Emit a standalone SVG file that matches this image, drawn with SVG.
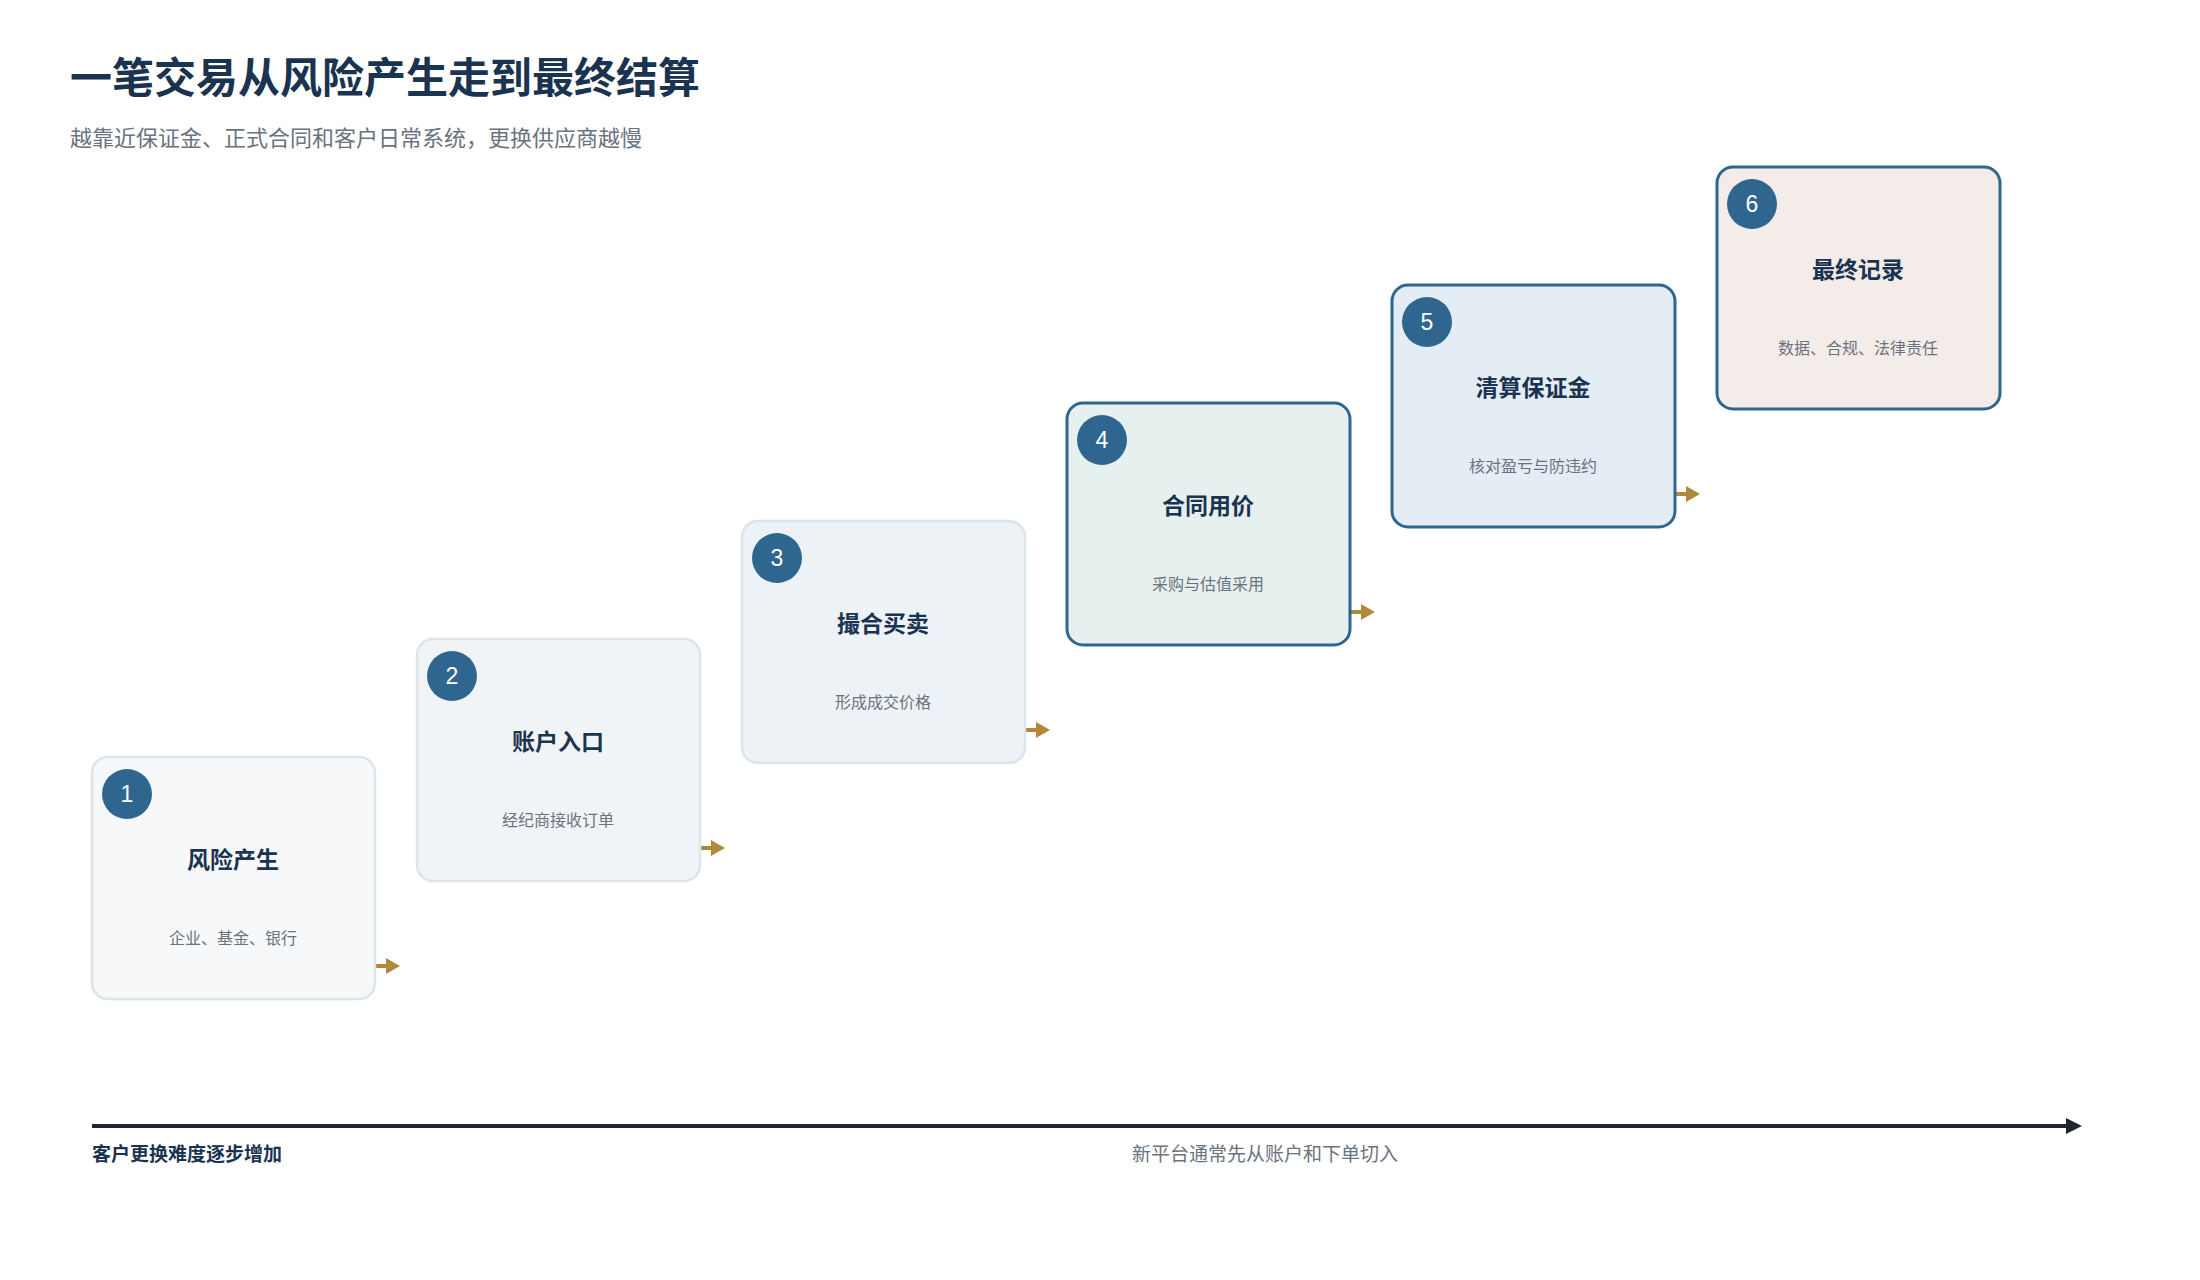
<svg xmlns="http://www.w3.org/2000/svg" width="2200" height="1280" viewBox="0 0 2200 1280">
<style>
text{font-family:"Noto Sans CJK SC","Noto Sans",sans-serif}
.t{font-size:42px;font-weight:bold;fill:#1a3350}
.s{font-size:22px;fill:#6b7280}
.nt{font-size:23px;font-weight:bold;fill:#1a3350;text-anchor:middle}
.ns{font-size:16px;fill:#6b7280;text-anchor:middle}
.bd{fill:#2e6690}
.bn{font-size:23px;fill:#fff;text-anchor:middle;font-family:"Liberation Sans",sans-serif}
.lt{stroke:#dce5ec;stroke-width:2.5}
.dk{stroke:#2e6690;stroke-width:3}
.ar{stroke:#b08a3a;stroke-width:4}
</style>
<defs>
<marker id="g" viewBox="0 0 10 10" refX="9" refY="5" markerWidth="4" markerHeight="4" orient="auto" markerUnits="userSpaceOnUse"><path d="M0,0L10,5L0,10z" fill="#b08a3a"/></marker>
<marker id="k" viewBox="0 0 10 10" refX="9" refY="5" markerWidth="14" markerHeight="14" orient="auto" markerUnits="userSpaceOnUse"><path d="M0,0L10,5L0,10z" fill="#1f2630"/></marker>
</defs>
<rect width="2200" height="1280" fill="#fff"/>
<text class="t" x="70" y="93">一笔交易从风险产生走到最终结算</text>
<text class="s" x="70" y="146">越靠近保证金、正式合同和客户日常系统，更换供应商越慢</text>
<g id="connectors">
<path class="ar" d="M376 966h14" fill="none"/><path d="M386 958L400 966L386 974z" fill="#b08a3a"/>
<path class="ar" d="M701 848h14" fill="none"/><path d="M711 840L725 848L711 856z" fill="#b08a3a"/>
<path class="ar" d="M1026 730h14" fill="none"/><path d="M1036 722L1050 730L1036 738z" fill="#b08a3a"/>
<path class="ar" d="M1351 612h14" fill="none"/><path d="M1361 604L1375 612L1361 620z" fill="#b08a3a"/>
<path class="ar" d="M1676 494h14" fill="none"/><path d="M1686 486L1700 494L1686 502z" fill="#b08a3a"/>
<line x1="92" y1="1126" x2="2068" y2="1126" stroke="#1f2630" stroke-width="4"/>
<path d="M2066 1118L2082 1126L2066 1134z" fill="#1f2630"/>
</g>
<g id="n1"><rect class="lt" x="92" y="757" width="283" height="242" rx="16" fill="#f6f8fa"/><circle class="bd" cx="127" cy="794" r="25"/><text class="bn" x="127" y="802">1</text><text class="nt" x="233" y="868">风险产生</text><text class="ns" x="233" y="944">企业、基金、银行</text></g>
<g id="n2"><rect class="lt" x="417" y="639" width="283" height="242" rx="16" fill="#f0f4f7"/><circle class="bd" cx="452" cy="676" r="25"/><text class="bn" x="452" y="684">2</text><text class="nt" x="558" y="750">账户入口</text><text class="ns" x="558" y="826">经纪商接收订单</text></g>
<g id="n3"><rect class="lt" x="742" y="521" width="283" height="242" rx="16" fill="#edf2f6"/><circle class="bd" cx="777" cy="558" r="25"/><text class="bn" x="777" y="566">3</text><text class="nt" x="883" y="632">撮合买卖</text><text class="ns" x="883" y="708">形成成交价格</text></g>
<g id="n4"><rect class="dk" x="1067" y="403" width="283" height="242" rx="16" fill="#e6f0ef"/><circle class="bd" cx="1102" cy="440" r="25"/><text class="bn" x="1102" y="448">4</text><text class="nt" x="1208" y="514">合同用价</text><text class="ns" x="1208" y="590">采购与估值采用</text></g>
<g id="n5"><rect class="dk" x="1392" y="285" width="283" height="242" rx="16" fill="#e4ecf4"/><circle class="bd" cx="1427" cy="322" r="25"/><text class="bn" x="1427" y="330">5</text><text class="nt" x="1533" y="396">清算保证金</text><text class="ns" x="1533" y="472">核对盈亏与防违约</text></g>
<g id="n6"><rect class="dk" x="1717" y="167" width="283" height="242" rx="16" fill="#f3ece8"/><circle class="bd" cx="1752" cy="204" r="25"/><text class="bn" x="1752" y="212">6</text><text class="nt" x="1858" y="278">最终记录</text><text class="ns" x="1858" y="354">数据、合规、法律责任</text></g>
<text x="92" y="1161" font-size="19" font-weight="bold" fill="#1a3350">客户更换难度逐步增加</text>
<text x="1132" y="1161" font-size="19" fill="#6b7280">新平台通常先从账户和下单切入</text>
</svg>
